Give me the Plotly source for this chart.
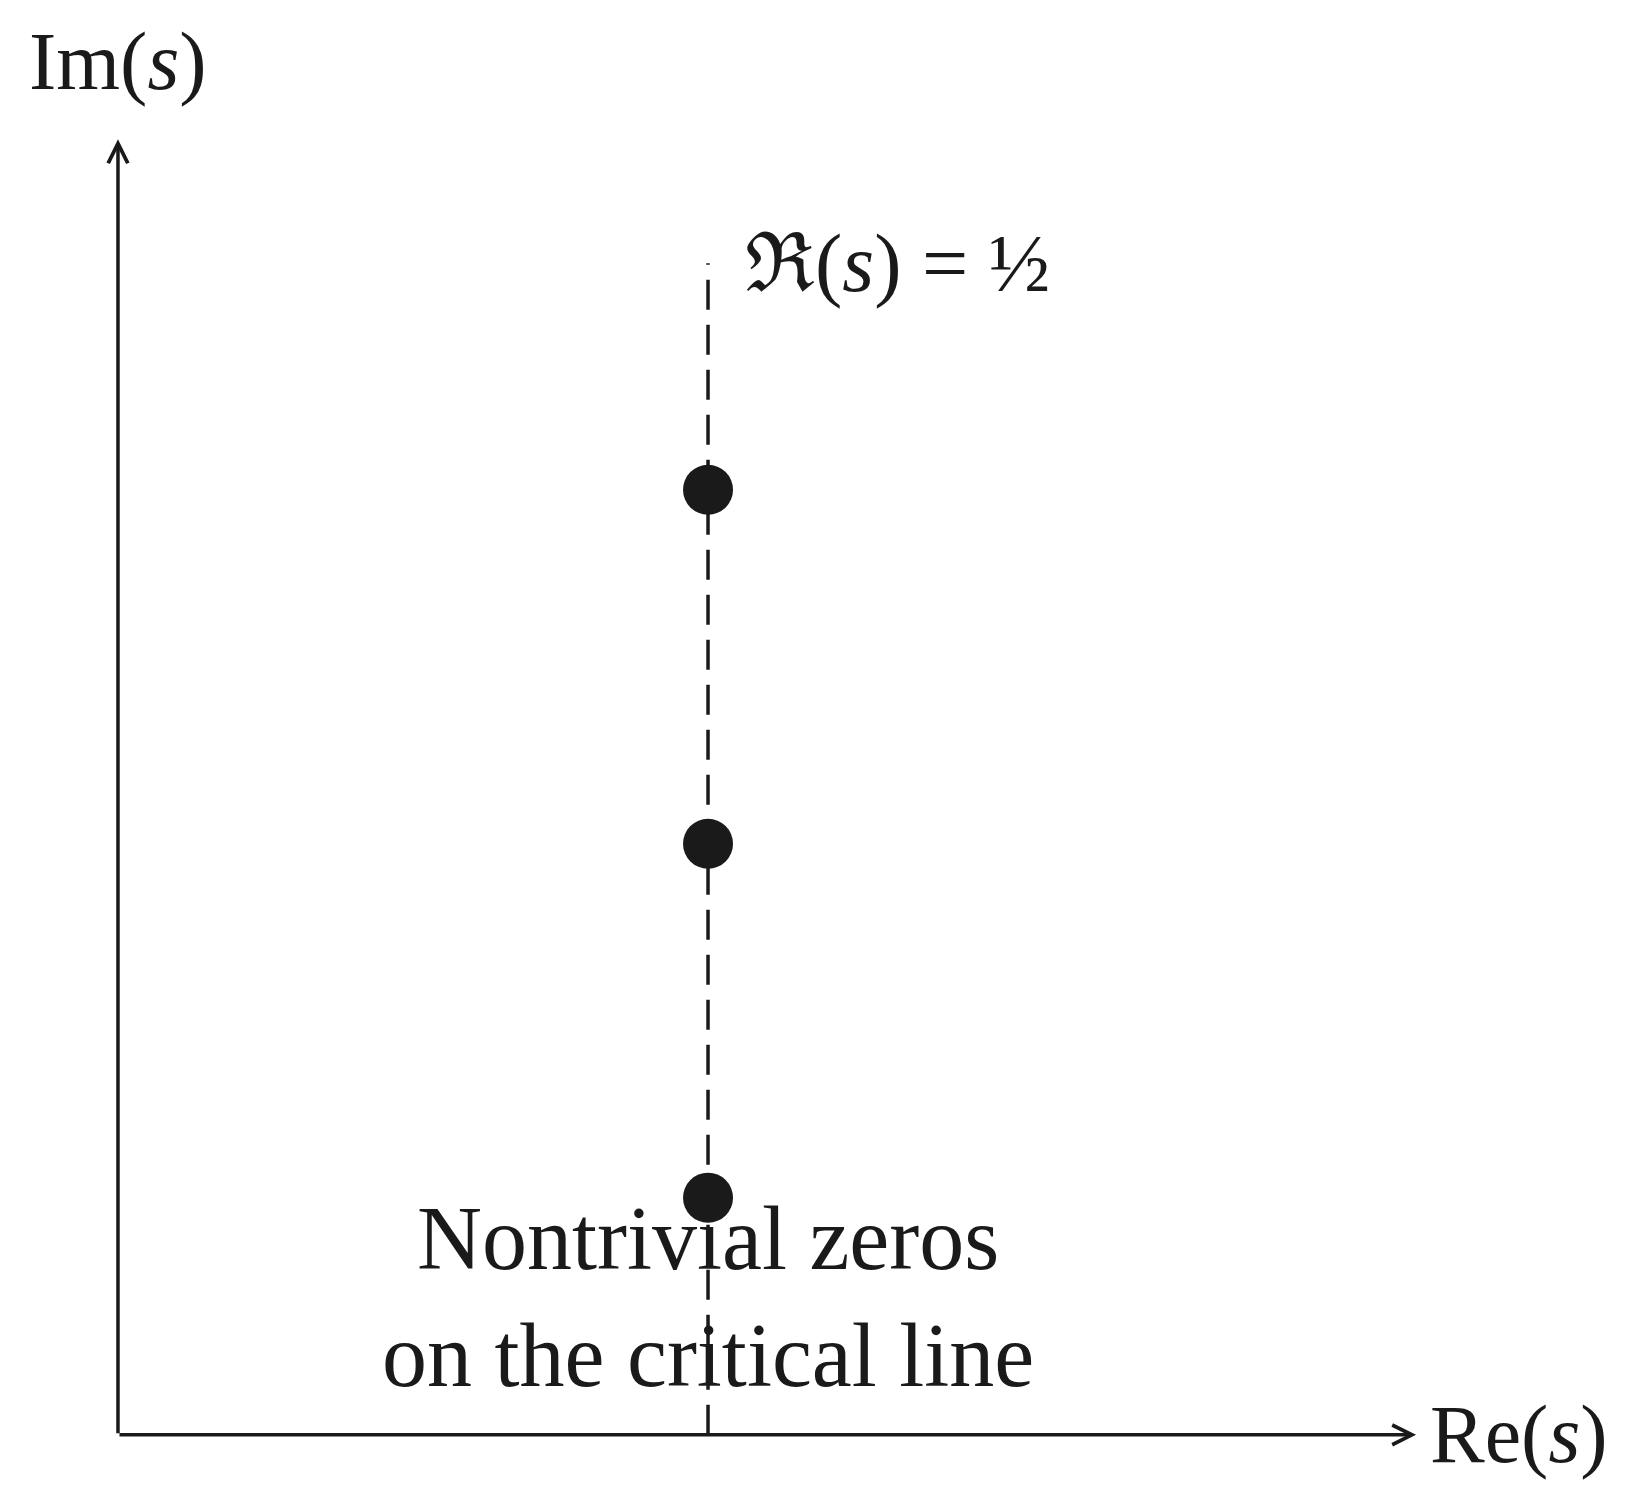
import plotly.graph_objects as go

# schematic of the critical strip
critical_re = 0.5
zero_im = [0.67, 1.67, 2.67]
line_top = 3.31
x_axis_end = 1.1
y_axis_end = 3.66

FONT = "Liberation Serif"

fig = go.Figure()

fig.add_trace(go.Scatter(
    x=[critical_re, critical_re], y=[0, line_top], mode="lines",
    line=dict(color="#1a1a1a", width=3.5, dash="30px,15px"), showlegend=False,
))
fig.add_trace(go.Scatter(
    x=[critical_re] * len(zero_im), y=zero_im, mode="markers",
    marker=dict(color="#1a1a1a", size=50), showlegend=False,
))

arrow = dict(xref="x", yref="y", axref="x", ayref="y", showarrow=True,
             arrowhead=5, arrowsize=1.1, arrowwidth=3.5, arrowcolor="#1a1a1a", text="")
fig.add_annotation(x=x_axis_end, y=0, ax=0, ay=0, **arrow)
fig.add_annotation(x=0, y=y_axis_end, ax=0, ay=0, **arrow)

txt = dict(xref="x", yref="y", showarrow=False, font=dict(family=FONT, size=82, color="#1a1a1a"))
fig.add_annotation(x=0, y=3.88, text="Im(<i>s</i>)", **txt)
fig.add_annotation(x=x_axis_end + 0.01, y=0, text="Re(<i>s</i>)", xanchor="left", **txt)
fig.add_annotation(x=critical_re + 0.03, y=3.31, xanchor="left",
                   text="ℜ(<i>s</i>) = ½", **txt)
fig.add_annotation(x=critical_re, y=0.08, yanchor="bottom",
                   text="Nontrivial zeros<br>on the critical line",
                   xref="x", yref="y", showarrow=False,
                   font=dict(family=FONT, size=90, color="#1a1a1a"))

fig.update_layout(
    width=1637, height=1492, margin=dict(l=0, r=0, t=0, b=0),
    plot_bgcolor="white", paper_bgcolor="white",
    xaxis=dict(range=[-0.0932, 1.294], visible=False),
    yaxis=dict(range=[-0.184, 4.031], visible=False),
)

fig.write_html("out.html")
